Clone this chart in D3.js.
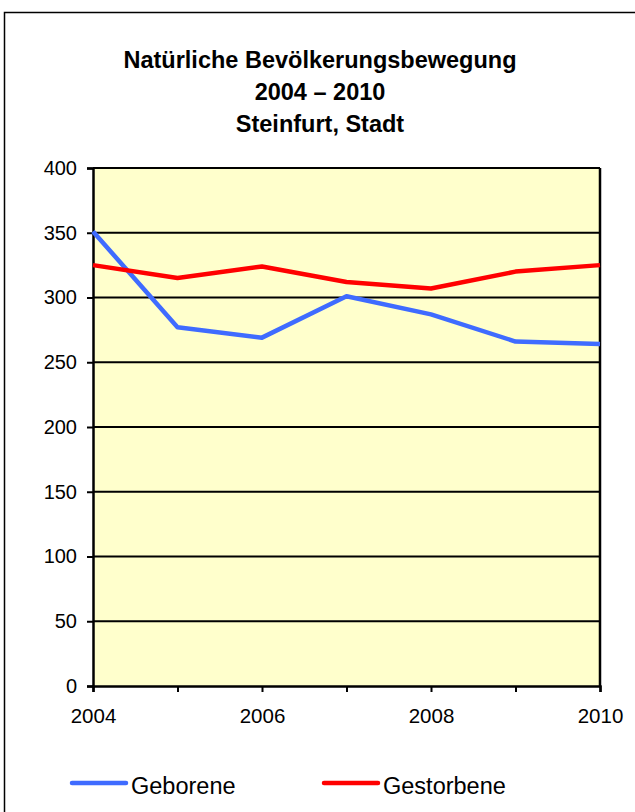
<!DOCTYPE html>
<html><head><meta charset="utf-8">
<script src="https://cdn.jsdelivr.net/npm/d3@7"></script>
<style>body{margin:0;background:#fff}svg{display:block;font-family:Arial,"Liberation Sans",sans-serif}</style>
</head><body>
<svg id="c" width="635" height="812"></svg>
<script>
const years = [2004, 2005, 2006, 2007, 2008, 2009, 2010];
const geborene = [351, 277, 269, 301, 287, 266, 264];
const gestorbene = [325, 315, 324, 312, 307, 320, 325];
const yTicks = [0, 50, 100, 150, 200, 250, 300, 350, 400];
const xLabels = [2004, 2006, 2008, 2010];
const titleLines = ["Natürliche Bevölkerungsbewegung", "2004 – 2010", "Steinfurt, Stadt"];
const seriesNames = ["Geborene", "Gestorbene"];
const colors = ["#3f6bff", "#ff0000"];

const svg = d3.select("#c");
// outer frame
svg.append("rect").attr("x", 4.5).attr("y", 12.5).attr("width", 640).attr("height", 820)
  .attr("fill", "none").attr("stroke", "#000").attr("stroke-width", 1.5);

const L = 93, R = 600, T = 168, B = 686;
const x = d3.scaleLinear().domain([2004, 2010]).range([L, R]);
const y = d3.scaleLinear().domain([0, 400]).range([B, T]);

svg.append("rect").attr("x", L).attr("y", T).attr("width", R - L).attr("height", B - T).attr("fill", "#ffffcc");

// gridlines
svg.append("g").selectAll("line").data(yTicks.filter(d => d > 0)).join("line")
  .attr("x1", L).attr("x2", R).attr("y1", d => y(d)).attr("y2", d => y(d))
  .attr("stroke", "#000").attr("stroke-width", 2);
// right border
svg.append("line").attr("x1", R).attr("x2", R).attr("y1", T).attr("y2", B).attr("stroke", "#000").attr("stroke-width", 2.5);

// y axis
const ya = svg.append("g").attr("transform", `translate(${L},0)`)
  .call(d3.axisLeft(y).tickValues(yTicks).tickSize(6).tickPadding(10).tickFormat(d3.format("d")));
ya.select(".domain").attr("stroke-width", 2.5);
ya.selectAll(".tick line").attr("stroke-width", 2);
ya.selectAll("text").attr("font-size", 20).attr("fill", "#000");

// x axis
const xa = svg.append("g").attr("transform", `translate(0,${B})`)
  .call(d3.axisBottom(x).tickValues(years).tickSize(6).tickPadding(16)
    .tickFormat(d => xLabels.includes(d) ? String(d) : ""));
xa.select(".domain").attr("stroke-width", 2.5);
xa.selectAll(".tick line").attr("stroke-width", 2);
xa.selectAll("text").attr("font-size", 20.5).attr("fill", "#000");

// lines
const line = d3.line().x((d, i) => x(years[i])).y(d => y(d));
[geborene, gestorbene].forEach((s, k) => {
  svg.append("path").datum(s).attr("d", line).attr("fill", "none")
    .attr("stroke", colors[k]).attr("stroke-width", 4.5).attr("stroke-linejoin", "round");
});

// title
svg.append("g").selectAll("text").data(titleLines).join("text")
  .attr("x", 320).attr("y", (d, i) => 68 + i * 32).attr("text-anchor", "middle")
  .attr("font-size", 23.5).attr("font-weight", "bold").attr("fill", "#000").text(d => d);

// legend
const legX = [70, 322];
const lg = svg.append("g");
seriesNames.forEach((n, k) => {
  lg.append("line").attr("x1", legX[k] + 2).attr("x2", legX[k] + 56).attr("y1", 783).attr("y2", 783)
    .attr("stroke", colors[k]).attr("stroke-width", 4.5).attr("stroke-linecap", "round");
  lg.append("text").attr("x", legX[k] + 61).attr("y", 794).attr("font-size", 23.5).attr("fill", "#000").text(n);
});
</script>
</body></html>
